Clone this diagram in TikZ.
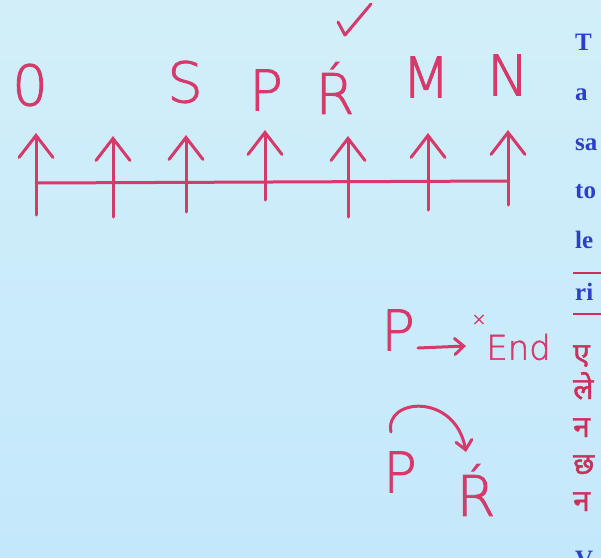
\documentclass[tikz,border=0pt]{standalone}
\usepackage{fontspec}
\usetikzlibrary{arrows.meta}
\newfontfamily\hand[FakeBold=1.6]{DejaVu Sans ExtraLight}
\newfontfamily\deva[Script=Devanagari,FakeBold=1.5]{Noto Sans}
\newfontfamily\serifb{Liberation Serif}
\definecolor{ink}{HTML}{D63A6B}
\definecolor{bgbot}{HTML}{C4E8FB}
\definecolor{bgtop}{HTML}{D2EFF9}
\definecolor{blu}{HTML}{2B3FC8}
\definecolor{hred}{HTML}{CC2F5A}
\tikzset{
  marker/.style={draw=ink, line width=3pt, line cap=round, line join=round},
  up/.style={marker, -{Straight Barb[length=22pt,width=34pt,line cap=round]}},
  small up/.style={marker, -{Straight Barb[length=9pt,width=16pt,line cap=round]}},
  letter/.style={text=ink, font=\hand\fontsize{56}{56}\selectfont, inner sep=0pt},
  col/.style={text=blu, font=\serifb\bfseries\fontsize{25}{25}\selectfont, anchor=base west, inner sep=0pt},
  hin/.style={text=hred, font=\deva\fontsize{30}{30}\selectfont, anchor=base west, inner sep=0pt},
  uline/.style={draw=hred, line width=2pt}
}
\begin{document}
\begin{tikzpicture}[x=1pt,y=-1pt]
\useasboundingbox (0,0) rectangle (601,557);
\shade[top color=bgtop, bottom color=bgbot] (0,0) rectangle (601,557);
\clip (0,0) rectangle (601,557);

% top letters
\node[letter] (l0) at (30,85) {0};
\node[letter] (lS) at (185,82) {S};
\node[letter] (lP) at (266,90) {P};
\node[letter] (lR) at (335,88) {Ŕ};
\node[letter] (lM) at (426,77) {M};
\node[letter] (lN) at (508,75) {N};
% check mark above R
\coordinate (ck1) at (338,22);
\coordinate (ck2) at (345,35);
\coordinate (ck3) at (371,4);
\draw[marker] (ck1) -- (ck2) -- (ck3);

% base line
\coordinate (h1) at (36,183);
\coordinate (h2) at (508,181);
\draw[marker] (h1) -- (h2);

% arrows
\foreach \i/\x/\yb/\yt in {1/36/215/133, 2/113/217/136, 3/186/212/135, 4/265/200/130, 5/348/217/136, 6/428/210/133, 7/508/205/130}{
  \coordinate (b\i) at (\x,\yb);
  \coordinate (t\i) at (\x,\yt);
  \draw[up] (b\i) -- (t\i);
}

% P -> x End
\node[letter] (P1) at (398,330) {P};
\coordinate (a1) at (418,348);
\coordinate (a2) at (466,346);
\draw[small up] (a1) -- (a2);
\node[text=ink, font=\hand\fontsize{18}{18}\selectfont, inner sep=0pt] (x1) at (479,320) {×};
\node[text=ink, font=\hand\fontsize{34}{34}\selectfont, inner sep=0pt, anchor=west] (end) at (486,347) {End};

% P curved arrow R
\node[letter] (P2) at (400,472) {P};
\node[letter] (R2) at (476,490) {Ŕ};
\coordinate (c1) at (391,432);
\coordinate (c2) at (466,452);
\draw[small up] (c1) .. controls (384,398) and (455,392) .. (c2);

% right text column (cut off by the frame)
\node[col] (w1) at (575,50) {T};
\node[col] (w2) at (575,100) {a};
\node[col] (w3) at (575,150) {sa};
\node[col] (w4) at (575,198) {to};
\node[col] (w5) at (575,248) {le};
\coordinate (u1a) at (573,273);
\coordinate (u1b) at (601,273);
\draw[uline] (u1a) -- (u1b);
\node[col] (w6) at (575,300) {ri};
\coordinate (u2a) at (573,314);
\coordinate (u2b) at (601,314);
\draw[uline] (u2a) -- (u2b);
\node[hin] (d1) at (573,364) {ए};
\node[hin] (d2) at (573,399) {ले};
\node[hin] (d3) at (573,437) {न};
\node[hin] (d4) at (573,474) {छ};
\node[hin] (d5) at (573,511) {न};
\node[col] (w7) at (575,567) {V};
\end{tikzpicture}
\end{document}
